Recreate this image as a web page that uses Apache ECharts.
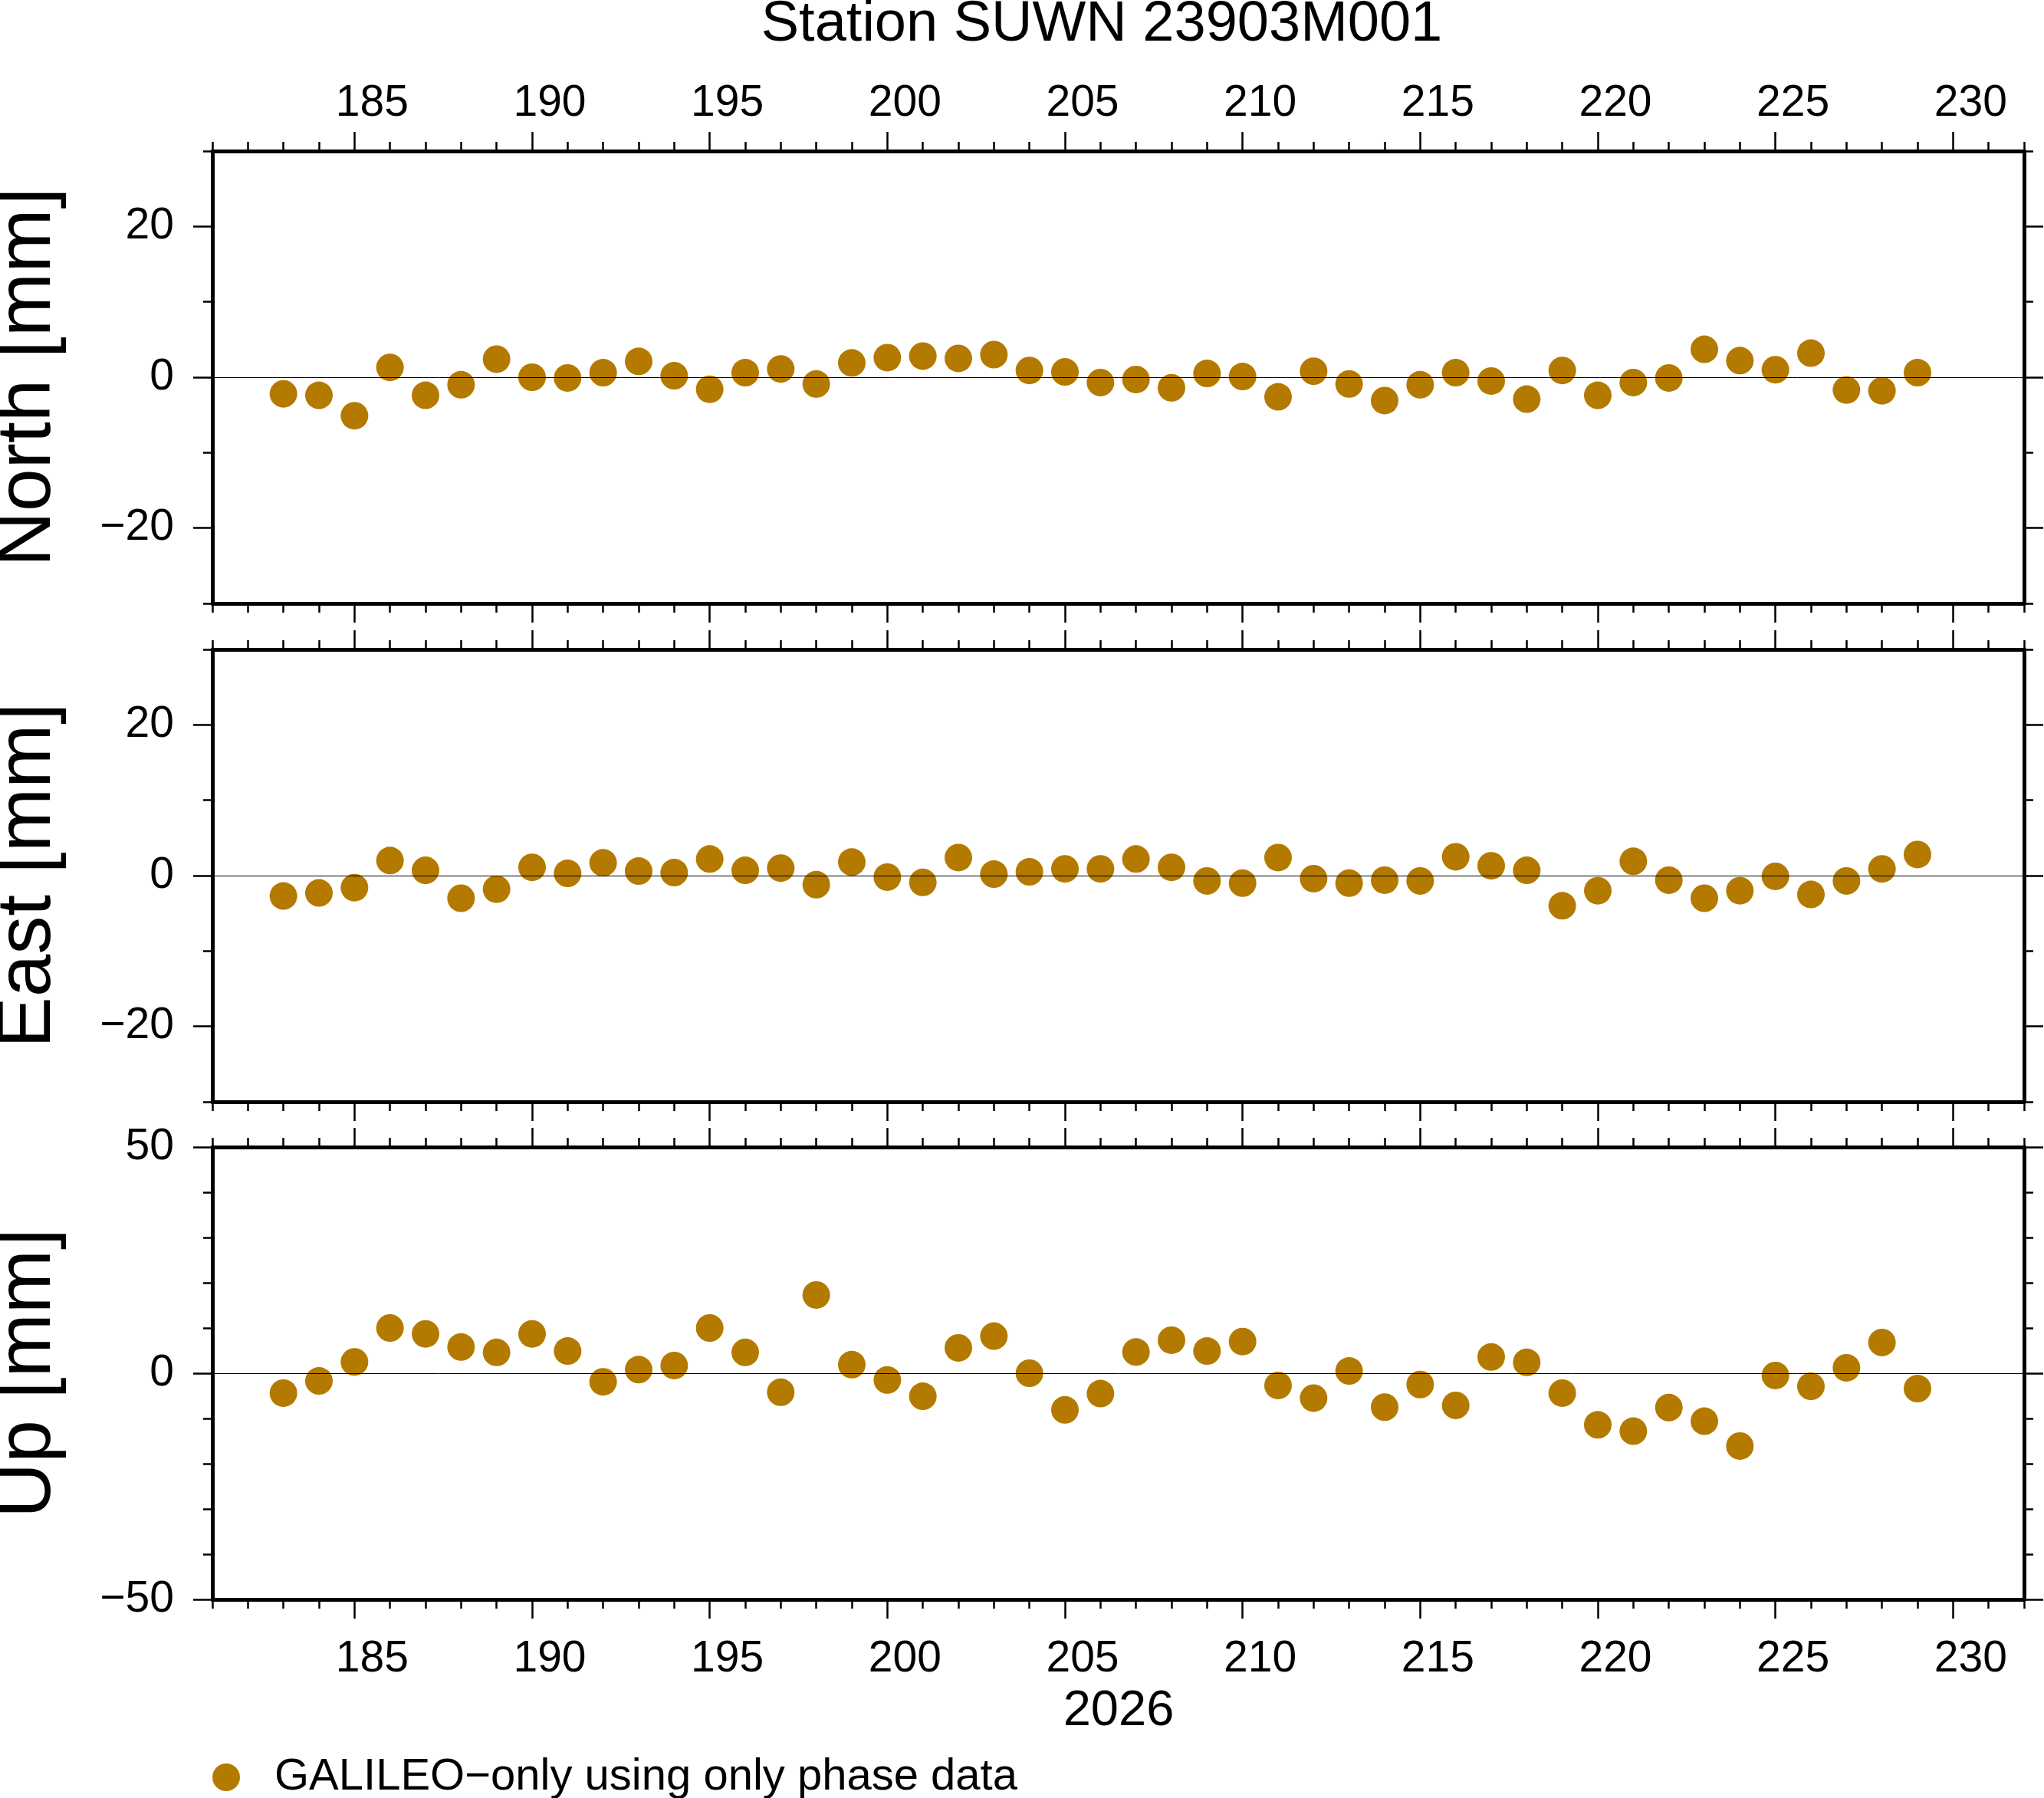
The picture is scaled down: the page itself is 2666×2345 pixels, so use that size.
<!DOCTYPE html>
<html>
<head>
<meta charset="utf-8">
<script src="https://cdn.jsdelivr.net/npm/echarts@6/dist/echarts.min.js"></script>
<style>
  html, body { margin: 0; padding: 0; background: #fff; }
  #chart { width: 2666px; height: 2345px; }
</style>
</head>
<body>
<div id="chart"></div>
<script>
// day of year 2026
var days = [183,184,185,186,187,188,189,190,191,192,193,194,195,196,197,198,199,200,201,202,203,204,205,206,207,208,209,210,211,212,213,214,215,216,217,218,219,220,221,222,223,224,225,226,227,228,229];

// mm
var north = [-2.2,-2.4,-5.1,1.3,-2.4,-1.0,2.4,0.0,-0.1,0.6,
             2.1,0.2,-1.6,0.6,1.1,-0.9,1.9,2.6,2.8,2.5,
             3.0,0.9,0.7,-0.7,-0.3,-1.4,0.5,0.1,-2.6,0.8,
             -0.9,-3.1,-1.0,0.6,-0.5,-2.9,0.9,-2.4,-0.7,-0.1,
             3.7,2.2,1.0,3.2,-1.7,-1.8,0.6];
var east = [-2.7,-2.3,-1.6,2.0,0.7,-3.0,-1.8,1.1,0.3,1.7,
            0.6,0.4,2.2,0.7,1.0,-1.2,1.8,-0.2,-0.9,2.4,
            0.2,0.5,0.9,0.9,2.2,1.1,-0.7,-1.0,2.4,-0.4,
            -1.0,-0.6,-0.7,2.5,1.3,0.7,-4.0,-2.0,1.9,-0.6,
            -3.0,-2.0,-0.1,-2.5,-0.7,0.9,2.8];
var up = [-4.4,-1.7,2.5,10.0,8.7,5.8,4.6,8.7,4.9,-1.9,
          0.8,1.7,10.0,4.6,-4.2,17.3,1.9,-1.5,-5.1,5.6,
          8.2,0.0,-8.1,-4.5,4.7,7.3,4.9,7.0,-2.7,-5.5,
          0.5,-7.5,-2.5,-7.1,3.6,2.4,-4.4,-11.4,-12.8,-7.6,
          -10.6,-16.1,-0.5,-2.9,1.2,6.8,-3.4];

var dayTicks = [185,190,195,200,205,210,215,220,225,230];
var neTicks = [-20,0,20];
var upTicks = [-50,0,50];

var panelNames = ['North [mm]', 'East [mm]', 'Up [mm]'];
var panelValues = [north, east, up];
var panelRange = [[-30,30],[-30,30],[-50,50]];
var panelTicks = [neTicks, neTicks, upTicks];
var legendName = 'GALILEO\u2212only using only phase data';

var font = 'Liberation Sans';
var dotColor = '#b47a00';
var tops = [197, 847, 1496];
var gridLeft = 277, gridWidth = 2363, gridHeight = 590;

var chart = echarts.init(document.getElementById('chart'));

var grids = [], xAxes = [], yAxes = [], series = [], graphics = [];

function minus(v) { return String(v).replace('-', '\u2212'); }

tops.forEach(function (top, i) {
  grids.push({ left: gridLeft, top: top, width: gridWidth, height: gridHeight });

  ['bottom', 'top'].forEach(function (pos) {
    var showLab = (pos === 'bottom' && i === 2) || (pos === 'top' && i === 0);
    // minor ticks, every day
    xAxes.push({
      gridIndex: i, type: 'value', position: pos, min: 181, max: 232, interval: 1,
      axisLine: { show: true, onZero: false, lineStyle: { color: '#000', width: 5 } },
      axisTick: { show: true, length: 12, lineStyle: { color: '#000', width: 2.5 } },
      axisLabel: { show: false },
      splitLine: { show: false }
    });
    // major ticks + labels
    xAxes.push({
      gridIndex: i, type: 'value', position: pos, min: 181, max: 232,
      axisLine: { show: false, onZero: false },
      axisTick: { show: true, length: 25, customValues: dayTicks, lineStyle: { color: '#000', width: 2.5 } },
      axisLabel: {
        show: showLab, customValues: dayTicks, fontFamily: font, fontSize: 57, color: '#000',
        margin: pos === 'top' ? 33 : 50, padding: [0, 0, 0, 46]
      },
      splitLine: { show: false }
    });
  });

  var rng = panelRange[i];
  ['left', 'right'].forEach(function (pos) {
    yAxes.push({
      gridIndex: i, type: 'value', position: pos, min: rng[0], max: rng[1], interval: 10,
      axisLine: { show: true, onZero: false, lineStyle: { color: '#000', width: 5 } },
      axisTick: { show: true, length: 12, lineStyle: { color: '#000', width: 2.5 } },
      axisLabel: { show: false },
      splitLine: { show: false }
    });
    yAxes.push({
      gridIndex: i, type: 'value', position: pos, min: rng[0], max: rng[1],
      axisLine: { show: false, onZero: false },
      axisTick: { show: true, length: 25, customValues: panelTicks[i], lineStyle: { color: '#000', width: 2.5 } },
      axisLabel: {
        show: pos === 'left', customValues: panelTicks[i], fontFamily: font, fontSize: 57, color: '#000',
        margin: 50, formatter: minus
      },
      splitLine: { show: false }
    });
  });

  // zero reference line
  series.push({
    type: 'line', xAxisIndex: 4 * i, yAxisIndex: 4 * i, data: [], z: 1, silent: true,
    markLine: {
      silent: true, symbol: 'none', animation: false,
      label: { show: false },
      lineStyle: { color: '#000', width: 1, type: 'solid' },
      data: [{ yAxis: 0 }]
    }
  });

  var vals = panelValues[i];
  series.push({
    name: legendName, type: 'scatter', xAxisIndex: 4 * i, yAxisIndex: 4 * i, z: 3,
    symbol: 'circle', symbolSize: 36,
    itemStyle: { color: dotColor, opacity: 1 },
    data: days.map(function (d, k) { return [d, vals[k]]; })
  });

  graphics.push({
    type: 'text', x: 37, y: top + gridHeight / 2, rotation: Math.PI / 2,
    style: {
      text: panelNames[i], font: '100px "' + font + '"', fill: '#000',
      textAlign: 'center', textVerticalAlign: 'middle', align: 'center', verticalAlign: 'middle'
    }
  });
});

graphics.push({
  type: 'text', x: 1437, y: 33,
  style: {
    text: 'Station SUWN 23903M001', font: '74px "' + font + '"', fill: '#000',
    textAlign: 'center', textVerticalAlign: 'middle', align: 'center', verticalAlign: 'middle'
  }
});
graphics.push({
  type: 'text', x: 1459, y: 2232,
  style: {
    text: '2026', font: '65px "' + font + '"', fill: '#000',
    textAlign: 'center', textVerticalAlign: 'middle', align: 'center', verticalAlign: 'middle'
  }
});

chart.setOption({
  animation: false,
  backgroundColor: '#fff',
  grid: grids,
  xAxis: xAxes,
  yAxis: yAxes,
  series: series,
  legend: {
    data: [legendName], left: 277, top: 2289, padding: 0,
    icon: 'circle', itemWidth: 36, itemHeight: 36,
    textStyle: { fontFamily: font, fontSize: 58, color: '#000', padding: [0, 0, 0, 40] }
  },
  graphic: graphics
});
</script>
</body>
</html>
